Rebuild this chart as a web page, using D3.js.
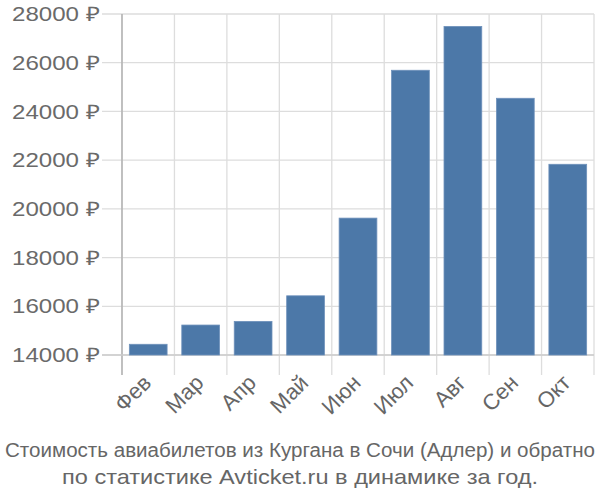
<!DOCTYPE html>
<html><head><meta charset="utf-8">
<script src="https://cdn.jsdelivr.net/npm/d3@7/dist/d3.min.js"></script>
<style>body{margin:0;background:#fff;} text{font-family:"Liberation Sans",Arial,sans-serif;}</style>
</head><body>
<svg id="c" width="600" height="500"></svg>
<script>
const categories = ["Фев","Мар","Апр","Май","Июн","Июл","Авг","Сен","Окт"];
const values = [14440, 15230, 15380, 16430, 19620, 25690, 27490, 24540, 21830];
const yTicks = [14000,16000,18000,20000,22000,24000,26000,28000];
const captionLines = ["Стоимость авиабилетов из Кургана в Сочи (Адлер) и обратно","по статистике Avticket.ru в динамике за год."];

const svg = d3.select("#c");
const x = d3.scaleBand().domain(categories).range([122,594]).paddingInner(0.28).paddingOuter(0.14);
const y = d3.scaleLinear().domain([14000,28000]).range([355,14]);
const step = x.step();

// horizontal grid + ticks
svg.append("g").selectAll("line").data(yTicks).join("line")
  .attr("x1",102).attr("x2",594).attr("y1",d=>y(d)).attr("y2",d=>y(d))
  .attr("stroke","#ddd").attr("stroke-width",1.3);
// vertical grid
const bounds = d3.range(categories.length+1).map(i=>x.range()[0]+i*step);
svg.append("g").selectAll("line").data(bounds).join("line")
  .attr("x1",d=>d).attr("x2",d=>d).attr("y1",14).attr("y2",375)
  .attr("stroke","#ddd").attr("stroke-width",1.3);
// axes lines
svg.append("line").attr("x1",122).attr("x2",122).attr("y1",14).attr("y2",375).attr("stroke","#aaa").attr("stroke-width",1.3);
svg.append("line").attr("x1",102).attr("x2",594).attr("y1",355).attr("y2",355).attr("stroke","#ccc").attr("stroke-width",1.3);

// bars
svg.append("g").selectAll("rect").data(values).join("rect")
  .attr("x",(d,i)=>x(categories[i])).attr("width",x.bandwidth())
  .attr("y",d=>y(d)).attr("height",d=>y(14000)-y(d))
  .attr("fill","#4c78a8").attr("stroke","#6e91bb").attr("stroke-width",0.8);

// y labels
svg.append("g").selectAll("text").data(yTicks).join("text")
  .attr("x",100).attr("y",d=>y(d)).attr("dy","0.36em").attr("text-anchor","end")
  .attr("font-size",20).attr("fill","#6a6a6a")
  .attr("textLength",88).attr("lengthAdjust","spacingAndGlyphs").text(d=>d+" ₽");

// x labels
svg.append("g").selectAll("text").data(categories).join("text")
  .attr("transform",d=>`translate(${x(d)+x.bandwidth()/2-7},${373}) rotate(-45)`)
  .attr("text-anchor","end").attr("dy","0.72em")
  .attr("font-size",22).attr("fill","#666").text(d=>d);

// caption
const capLen = [590, 476];
svg.append("g").selectAll("text").data(captionLines).join("text")
  .attr("x",300).attr("y",(d,i)=>457+i*27).attr("text-anchor","middle")
  .attr("font-size",(d,i)=>i===0?20:21).attr("fill","#666")
  .attr("textLength",(d,i)=>capLen[i]).attr("lengthAdjust","spacingAndGlyphs")
  .text(d=>d);
</script>
</body></html>
